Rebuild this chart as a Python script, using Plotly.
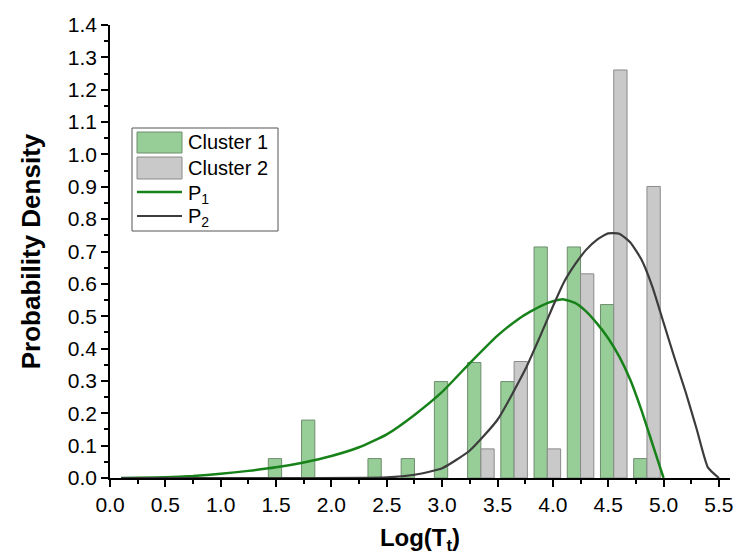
import plotly.graph_objects as go

# Histogram bins (bin width 0.3) and probability densities per cluster
bin_centers_c1 = [1.55, 1.85, 2.45, 2.75, 3.05, 3.35, 3.65, 3.95, 4.25, 4.55, 4.85]
density_c1 = [0.060, 0.179, 0.060, 0.060, 0.298, 0.357, 0.298, 0.714, 0.714, 0.536, 0.060]

bin_centers_c2 = [3.35, 3.65, 3.95, 4.25, 4.55, 4.85]
density_c2 = [0.090, 0.360, 0.090, 0.631, 1.261, 0.901]

# Fitted density curves
p1_x = [0.1, 0.5, 0.75, 1.0, 1.25, 1.5, 1.75, 2.0, 2.25, 2.5, 2.75, 3.0, 3.25,
        3.5, 3.7, 3.8, 3.9, 4.0, 4.1, 4.2, 4.3, 4.4, 4.5, 4.6, 4.7, 4.8, 4.9, 5.0]
p1_y = [0.0, 0.002, 0.006, 0.013, 0.022, 0.033, 0.048, 0.068, 0.095, 0.135,
        0.195, 0.266, 0.355, 0.44, 0.494, 0.515, 0.533, 0.546, 0.552, 0.541,
        0.515, 0.477, 0.432, 0.375, 0.303, 0.21, 0.105, 0.0]

p2_x = [0.1, 2.5, 2.75, 3.0, 3.25, 3.5, 3.75, 3.9, 4.0, 4.1, 4.2, 4.3, 4.4, 4.5,
        4.6, 4.7, 4.8, 4.9, 5.0, 5.1, 5.2, 5.3, 5.4, 5.5]
p2_y = [0.0, 0.002, 0.01, 0.03, 0.085, 0.18, 0.335, 0.45, 0.53, 0.605, 0.66,
        0.705, 0.737, 0.756, 0.755, 0.728, 0.675, 0.59, 0.48, 0.37, 0.265,
        0.15, 0.033, 0.0]

x_ticks = [0.0, 0.5, 1.0, 1.5, 2.0, 2.5, 3.0, 3.5, 4.0, 4.5, 5.0, 5.5]
y_ticks = [0.0, 0.1, 0.2, 0.3, 0.4, 0.5, 0.6, 0.7, 0.8, 0.9, 1.0, 1.1, 1.2, 1.3, 1.4]

GREEN_FILL = "#97CE97"
GREEN_EDGE = "#6E8C6E"
GRAY_FILL = "#C9C9C9"
GRAY_EDGE = "#8A8A8A"
GREEN_LINE = "#17821A"
DARK_LINE = "#3C3C3C"
FONT = "Liberation Sans, Arial, sans-serif"

W, H = 734, 557
ML, MR, MT, MB = 110, 4, 25, 79

fig = go.Figure()

fig.add_trace(go.Bar(
    x=bin_centers_c1, y=density_c1, width=0.12, offset=-0.12,
    marker=dict(color=GREEN_FILL, line=dict(color=GREEN_EDGE, width=1)),
    name="Cluster 1", showlegend=False,
))
fig.add_trace(go.Bar(
    x=bin_centers_c2, y=density_c2, width=0.12, offset=0.0,
    marker=dict(color=GRAY_FILL, line=dict(color=GRAY_EDGE, width=1)),
    name="Cluster 2", showlegend=False,
))
fig.add_trace(go.Scatter(
    x=p1_x, y=p1_y, mode="lines", line=dict(color=GREEN_LINE, width=2.5, shape="spline", smoothing=0.5),
    name="P1", showlegend=False,
))
fig.add_trace(go.Scatter(
    x=p2_x, y=p2_y, mode="lines", line=dict(color=DARK_LINE, width=2.2, shape="spline", smoothing=0.5),
    name="P2", showlegend=False,
))

# Boxed legend drawn in pixel space
pw, ph = W - ML - MR, H - MT - MB


def px(xp):
    return (xp - ML) / pw


def py(yp):
    return (H - MB - yp) / ph


shapes = []
annotations = []
shapes.append(dict(type="rect", xref="paper", yref="paper",
                   x0=px(132), x1=px(278), y0=py(231), y1=py(128),
                   line=dict(color="#555555", width=1), fillcolor="white", layer="above"))
shapes.append(dict(type="rect", xref="paper", yref="paper",
                   x0=px(137), x1=px(182), y0=py(153), y1=py(132),
                   line=dict(color=GREEN_EDGE, width=1), fillcolor=GREEN_FILL, layer="above"))
shapes.append(dict(type="rect", xref="paper", yref="paper",
                   x0=px(137), x1=px(182), y0=py(179), y1=py(157),
                   line=dict(color=GRAY_EDGE, width=1), fillcolor=GRAY_FILL, layer="above"))
shapes.append(dict(type="line", xref="paper", yref="paper",
                   x0=px(137), x1=px(182), y0=py(192), y1=py(192),
                   line=dict(color=GREEN_LINE, width=2.5), layer="above"))
shapes.append(dict(type="line", xref="paper", yref="paper",
                   x0=px(137), x1=px(182), y0=py(216), y1=py(216),
                   line=dict(color=DARK_LINE, width=2), layer="above"))

legend_labels = ["Cluster 1", "Cluster 2", "P<sub>1</sub>", "P<sub>2</sub>"]
legend_y = [142, 168, 194, 218]
for lbl, yy in zip(legend_labels, legend_y):
    annotations.append(dict(xref="paper", yref="paper", x=px(186), y=py(yy),
                            text=lbl, showarrow=False, xanchor="left", yanchor="middle",
                            font=dict(family=FONT, size=20, color="black")))

axis_common = dict(
    showline=True, linecolor="black", linewidth=1.5,
    ticks="outside", ticklen=7, tickwidth=1.5, tickcolor="black",
    showgrid=False, zeroline=False, mirror=False,
    tickfont=dict(family=FONT, size=21, color="black"),
)

fig.update_layout(
    width=W, height=H,
    margin=dict(l=ML, r=MR, t=MT, b=MB),
    paper_bgcolor="white", plot_bgcolor="white",
    barmode="overlay",
    showlegend=False,
    shapes=shapes,
    annotations=annotations,
    xaxis=dict(
        range=[0, 5.6], tickvals=x_ticks, ticktext=[f"{v:.1f}" for v in x_ticks],
        minor=dict(dtick=0.25, tick0=0, ticks="outside", ticklen=4, tickwidth=1.5, tickcolor="black"),
        title=dict(text="<b>Log(T<sub>t</sub>)</b>", font=dict(family=FONT, size=24, color="black"), standoff=14),
        automargin="height+bottom",
        **axis_common,
    ),
    yaxis=dict(
        range=[0, 1.4], tickvals=y_ticks, ticktext=[f"{v:.1f}" for v in y_ticks],
        minor=dict(dtick=0.05, tick0=0, ticks="outside", ticklen=4, tickwidth=1.5, tickcolor="black"),
        title=dict(text="<b>Probability Density</b>", font=dict(family=FONT, size=26, color="black"), standoff=20),
        automargin="width+left",
        **axis_common,
    ),
)

fig.write_html("out.html")
